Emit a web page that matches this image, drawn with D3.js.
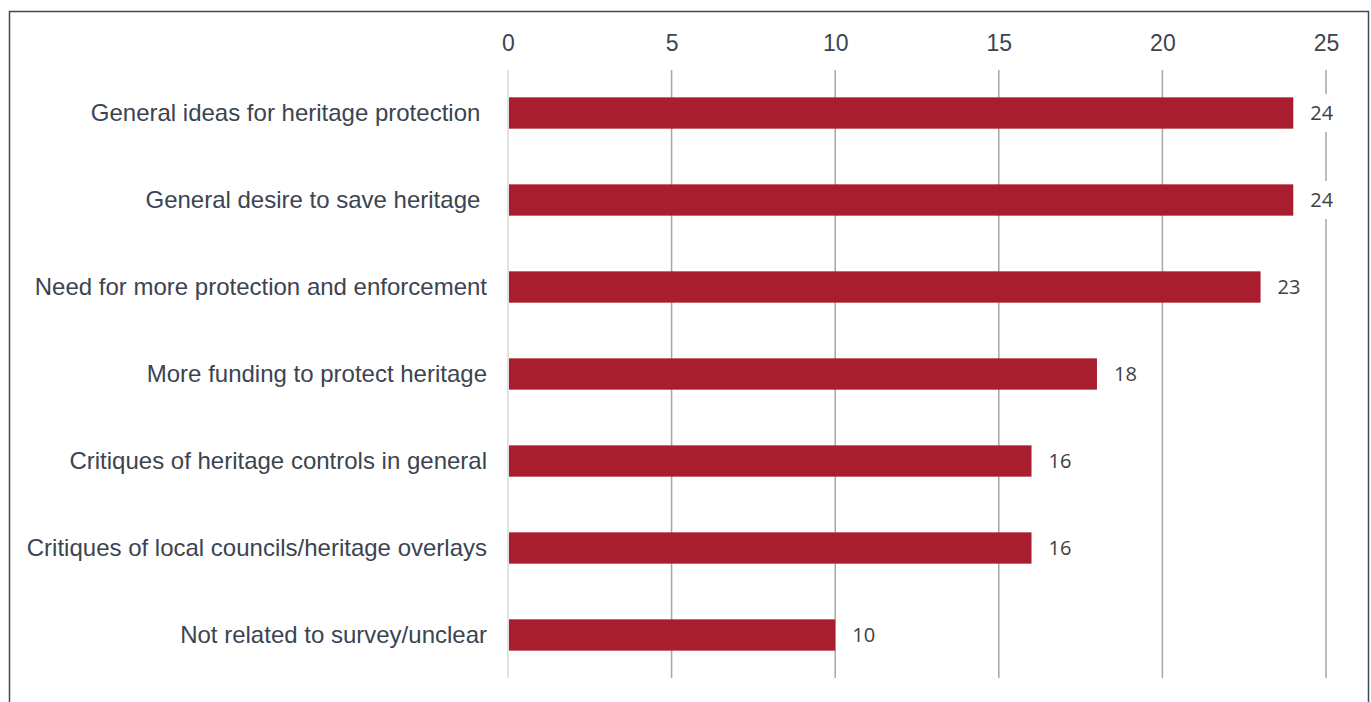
<!DOCTYPE html>
<html>
<head>
<meta charset="utf-8">
<script src="https://cdn.jsdelivr.net/npm/d3@7"></script>
<style>
  body { margin: 0; background: #fff; }
  svg { display: block; }
  .lab { font-family: Arial, "Liberation Sans", sans-serif; }
  .val { font-family: "Open Sans", Carlito, sans-serif; }
</style>
</head>
<body>
<div id="chart"></div>
<script>
var categories = [
  "General ideas for heritage protection ",
  "General desire to save heritage ",
  "Need for more protection and enforcement",
  "More funding to protect heritage",
  "Critiques of heritage controls in general",
  "Critiques of local councils/heritage overlays",
  "Not related to survey/unclear"
];
var values = [24, 24, 23, 18, 16, 16, 10];
var ticks = [0, 5, 10, 15, 20, 25];

var width = 1371, height = 702;

var x = d3.scaleLinear()
    .domain([0, 25])
    .range([508, 1326]);

var y = d3.scaleBand()
    .domain(categories)
    .range([69.5, 678.5])
    .paddingInner(0.64)
    .paddingOuter(0.32);

var svg = d3.select("#chart").append("svg")
    .attr("width", width)
    .attr("height", height);

// frame
svg.append("rect")
    .attr("x", 9.5)
    .attr("y", 11.5)
    .attr("width", 1359)
    .attr("height", 700)
    .attr("fill", "none")
    .attr("stroke", "#3d4954")
    .attr("stroke-width", 1.5);

// gridlines
svg.append("g")
    .attr("class", "grid")
  .selectAll("line")
    .data(ticks)
  .enter().append("line")
    .attr("x1", function(d) { return x(d); })
    .attr("x2", function(d) { return x(d); })
    .attr("y1", 70)
    .attr("y2", 678)
    .attr("stroke", function(d) { return d === 0 ? "#d9d9d9" : "#a6a6a6"; })
    .attr("stroke-width", 1.5);

// top axis labels
var xAxis = d3.axisTop(x)
    .tickValues(ticks)
    .tickSize(0)
    .tickPadding(0);

svg.append("g")
    .attr("class", "x axis")
    .attr("transform", "translate(0,51)")
    .call(xAxis)
    .call(function(g) { g.select(".domain").remove(); })
    .attr("font-family", null)
    .attr("font-size", null)
  .selectAll("text")
    .attr("class", "lab")
    .style("font-size", "23px")
    .attr("fill", "#3b4450");

// bars
svg.append("g")
  .selectAll(".bar")
    .data(values)
  .enter().append("rect")
    .attr("class", "bar")
    .attr("x", x(0) + 1)
    .attr("y", function(d, i) { return y(categories[i]); })
    .attr("width", function(d) { return x(d) - x(0) - 1; })
    .attr("height", y.bandwidth())
    .attr("fill", "#a91e2f");

// category labels
svg.append("g")
  .selectAll("text")
    .data(categories)
  .enter().append("text")
    .attr("class", "lab")
    .attr("x", 487)
    .attr("y", function(d) { return y(d) + y.bandwidth() / 2; })
    .attr("dy", "0.35em")
    .attr("text-anchor", "end")
    .style("font-size", "24px")
    .style("white-space", "pre")
    .attr("fill", "#3b4450")
    .text(function(d) { return d; });

// value labels with white background
var vl = svg.append("g")
  .selectAll("g")
    .data(values)
  .enter().append("g")
    .attr("transform", function(d, i) {
      return "translate(" + (x(d) + 17) + "," + (y(categories[i]) + y.bandwidth() / 2) + ")";
    });

vl.append("rect")
    .attr("x", -4)
    .attr("y", -19)
    .attr("width", 32)
    .attr("height", 38)
    .attr("fill", "#fff");

vl.append("text")
    .attr("class", "val")
    .attr("dy", "0.36em")
    .style("font-size", "20px")
    .attr("fill", "#404040")
    .text(function(d) { return d; });
</script>
</body>
</html>
